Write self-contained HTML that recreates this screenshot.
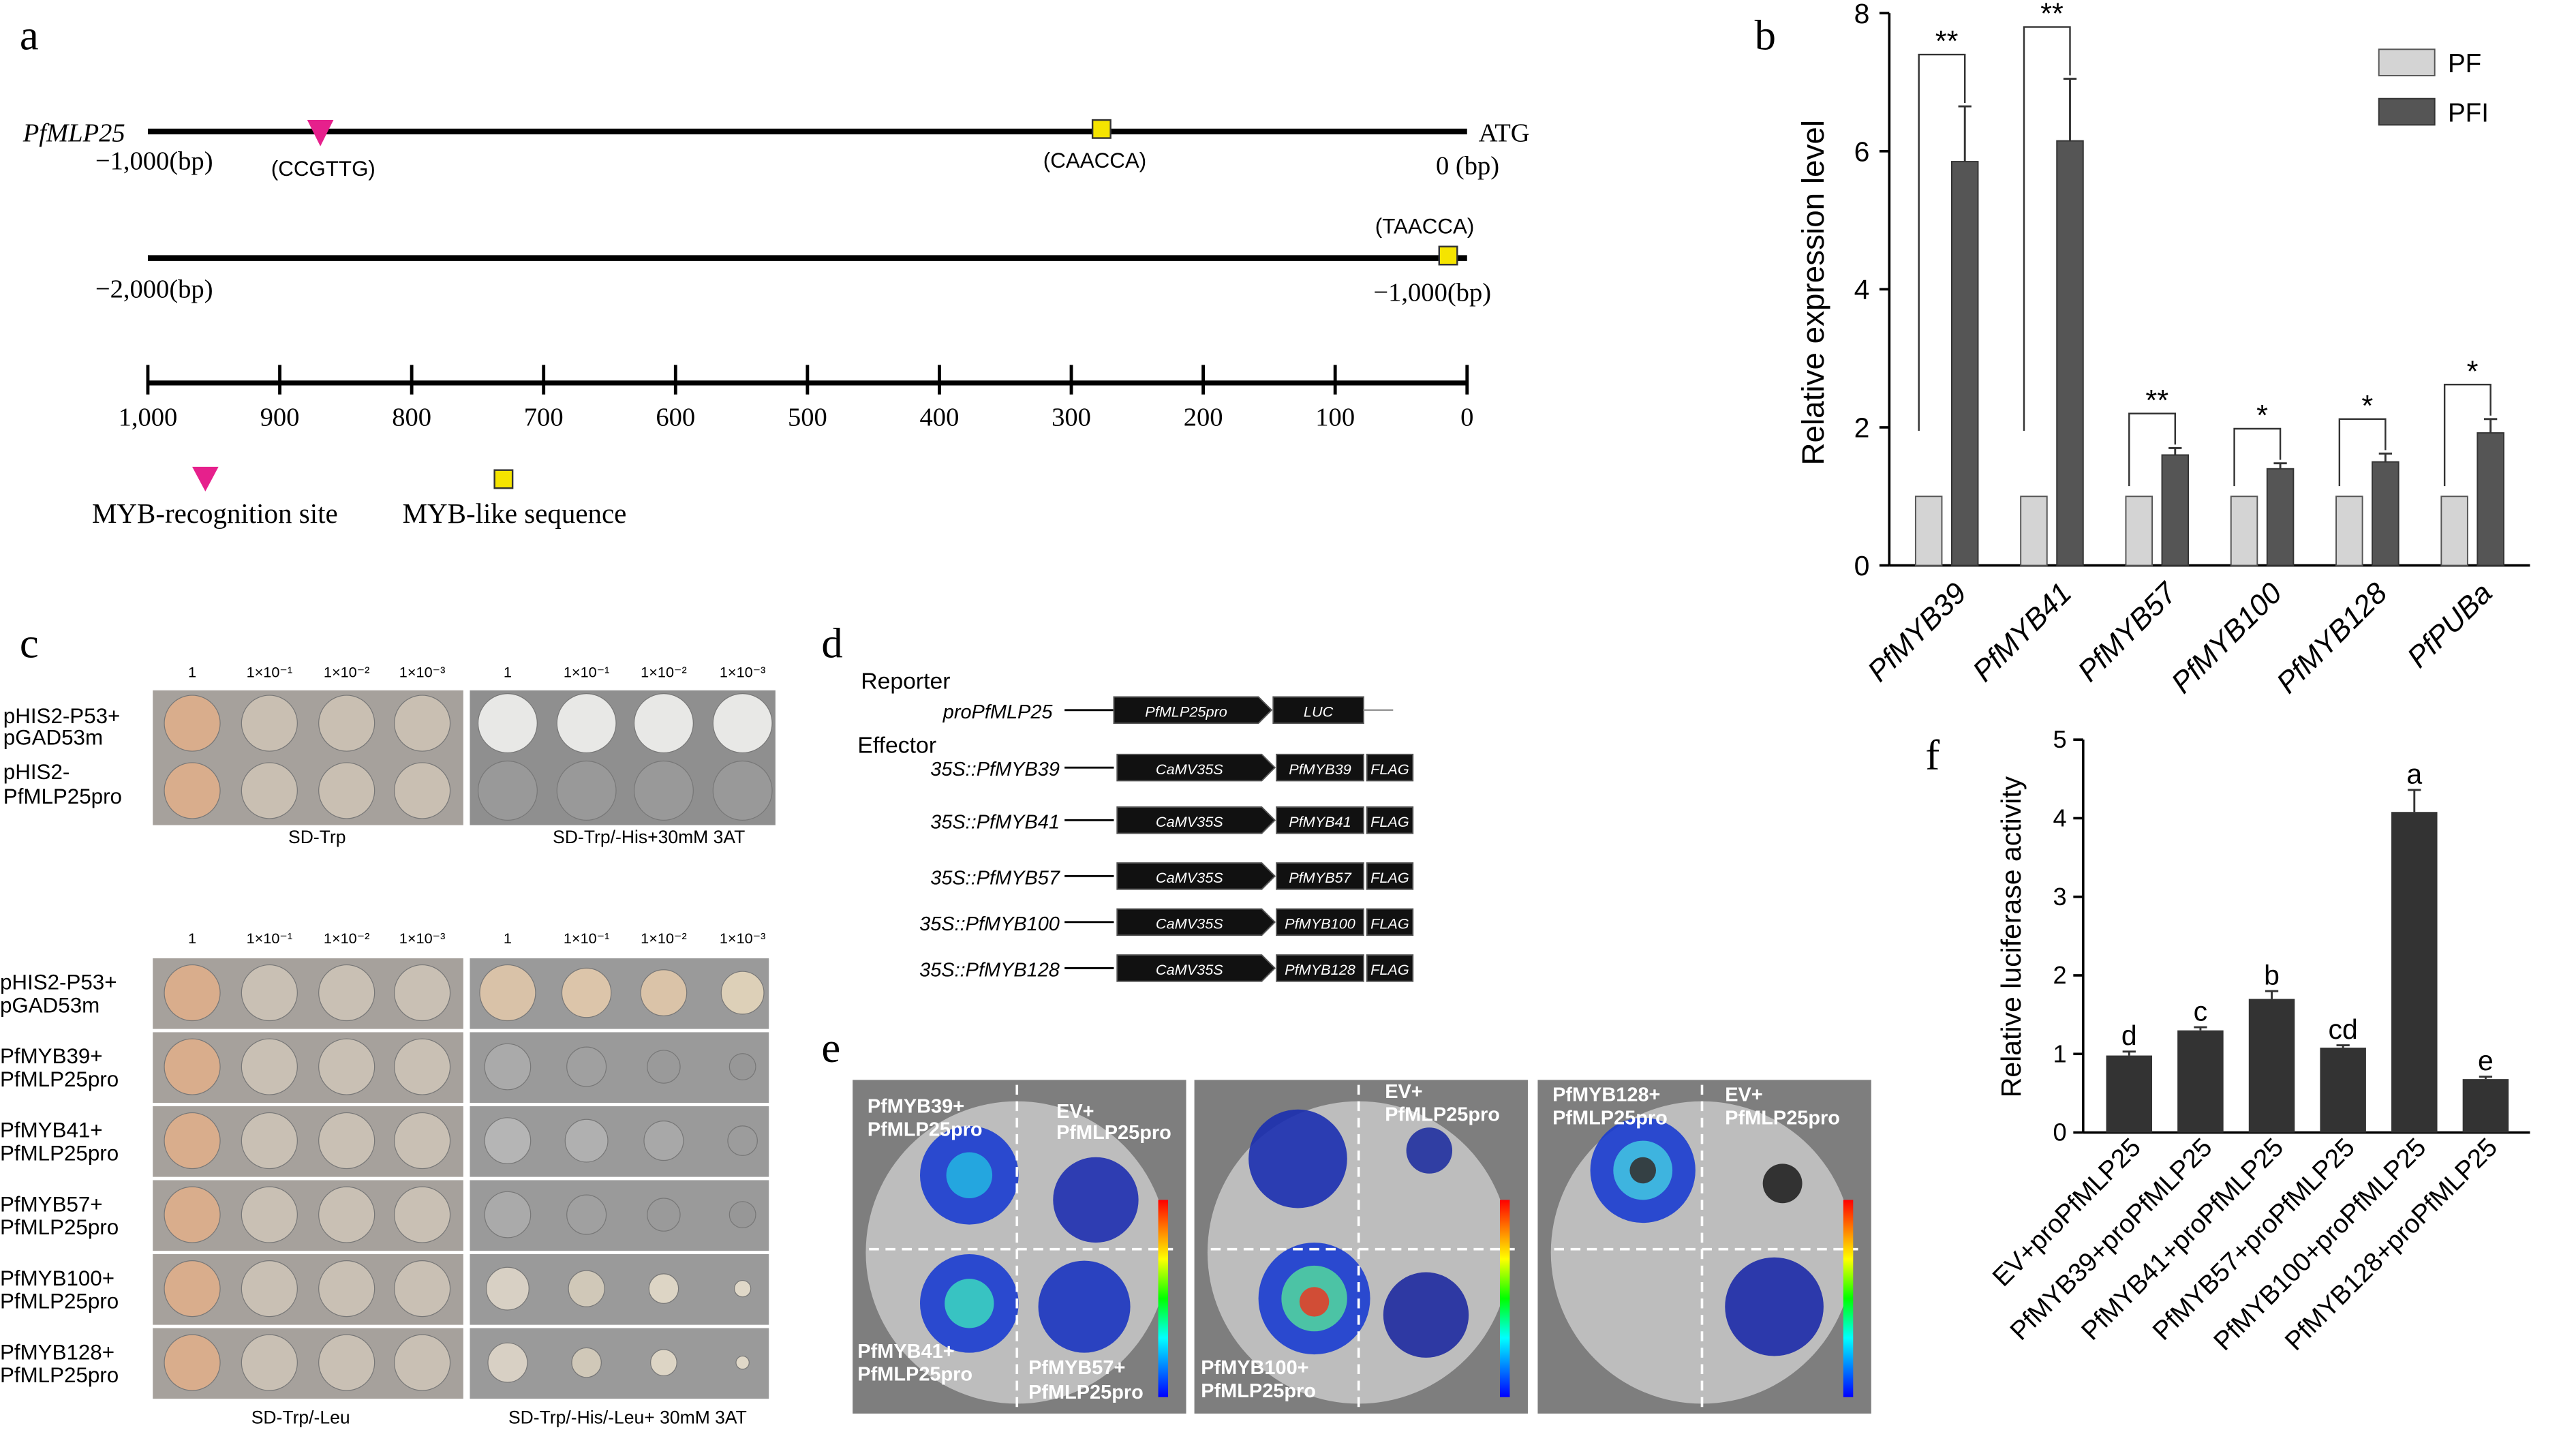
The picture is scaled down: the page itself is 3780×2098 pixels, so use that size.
<!DOCTYPE html>
<html><head><meta charset="utf-8"><style>
html,body{margin:0;padding:0;background:#fff}
svg{display:block}
text{font-family:"Liberation Serif",serif}
.s{font-family:"Liberation Sans",sans-serif}
</style></head><body>
<svg id="fig" width="3780" height="2098" viewBox="0 0 1568 870" preserveAspectRatio="none" xmlns="http://www.w3.org/2000/svg">
<rect width="1568" height="870" fill="#fff"/>
<g>
<text x="12" y="30" font-size="26">a</text>
<text x="14" y="86" font-size="16" font-style="italic">PfMLP25</text>
<line x1="90" y1="80" x2="893" y2="80" stroke="#000" stroke-width="3.5"/>
<polygon points="187,73 203,73 195,89" fill="#e6208c"/>
<rect x="665" y="73" width="11" height="11" fill="#f5e400" stroke="#333" stroke-width="1"/>
<text x="900" y="86" font-size="16">ATG</text>
<text x="58" y="103" font-size="16">−1,000(bp)</text>
<text x="165" y="107" font-size="13" class="s">(CCGTTG)</text>
<text x="635" y="102" font-size="13" class="s">(CAACCA)</text>
<text x="874" y="106" font-size="16">0 (bp)</text>
<line x1="90" y1="157" x2="893" y2="157" stroke="#000" stroke-width="3.5"/>
<rect x="876" y="150" width="11" height="11" fill="#f5e400" stroke="#333" stroke-width="1"/>
<text x="837" y="142" font-size="13" class="s">(TAACCA)</text>
<text x="58" y="181" font-size="16">−2,000(bp)</text>
<text x="836" y="183" font-size="16">−1,000(bp)</text>
<line x1="90" y1="233" x2="893" y2="233" stroke="#000" stroke-width="3"/>
<g id="scaleTicks"></g>
<polygon points="117,284 133,284 125,299" fill="#e6208c"/>
<text x="56" y="318" font-size="17">MYB-recognition site</text>
<rect x="301" y="286" width="11" height="11" fill="#f5e400" stroke="#333" stroke-width="1"/>
<text x="245" y="318" font-size="17">MYB-like sequence</text>
</g>
<g id="panelB">
<text x="1068" y="30" font-size="26">b</text>
<text transform="translate(1110,178) rotate(-90)" text-anchor="middle" font-size="19" class="s">Relative expression level</text>
<rect x="1448" y="30" width="34" height="16" fill="#d4d4d4" stroke="#555" stroke-width="0.8"/>
<text x="1490" y="44" font-size="16" class="s">PF</text>
<rect x="1448" y="60" width="34" height="16" fill="#555" stroke="#333" stroke-width="0.8"/>
<text x="1490" y="74" font-size="16" class="s">PFI</text>
</g>
<g id="panelF">
<text x="1172" y="468" font-size="26">f</text>
<text transform="translate(1230,570) rotate(-90)" text-anchor="middle" font-size="17" class="s">Relative luciferase activity</text>
</g>
<g id="panelC">
<text x="12" y="400" font-size="26">c</text>
<text x="193" y="513" font-size="11" class="s" text-anchor="middle">SD-Trp</text>
<text x="395" y="513" font-size="11" class="s" text-anchor="middle">SD-Trp/-His+30mM 3AT</text>
<text x="183" y="866" font-size="11" class="s" text-anchor="middle">SD-Trp/-Leu</text>
<text x="382" y="866" font-size="11" class="s" text-anchor="middle">SD-Trp/-His/-Leu+ 30mM 3AT</text>
</g>
<g id="panelD">
<text x="500" y="400" font-size="26">d</text>
<text x="524" y="419" font-size="14" class="s">Reporter</text>
<text x="522" y="458" font-size="14" class="s">Effector</text>
</g>
<g id="panelE">
<text x="500" y="646" font-size="26">e</text>
</g>
</svg>
<script>
const bCategories = ["PfMYB39","PfMYB41","PfMYB57","PfMYB100","PfMYB128","PfPUBa"];
const bPF = [1,1,1,1,1,1];
const bPFI = [5.85,6.15,1.6,1.4,1.5,1.92];
const bErr = [0.8,0.9,0.1,0.08,0.12,0.2];
const bSig = ["**","**","**","*","*","*"];
const bTicks = [0,2,4,6,8];
const fCategories = ["EV+proPfMLP25","PfMYB39+proPfMLP25","PfMYB41+proPfMLP25","PfMYB57+proPfMLP25","PfMYB100+proPfMLP25","PfMYB128+proPfMLP25"];
const fValues = [0.98,1.3,1.7,1.08,4.08,0.68];
const fErr = [0.05,0.04,0.1,0.03,0.28,0.03];
const fLetters = ["d","c","b","cd","a","e"];
const fTicks = [0,1,2,3,4,5];
const scaleLabels = ["1,000","900","800","700","600","500","400","300","200","100","0"];

const NS="http://www.w3.org/2000/svg";
function mk(tag,attrs,parent,txt){const e=document.createElementNS(NS,tag);for(const k in attrs)e.setAttribute(k,attrs[k]);if(txt!==undefined)e.textContent=txt;parent.appendChild(e);return e;}

(function(){
 const g=document.getElementById('scaleTicks');
 scaleLabels.forEach((l,i)=>{
  const x=90+i*(803/10);
  const t=mk('line',{x1:x,y1:222,x2:x,y2:240,stroke:'#000','stroke-width':2},g);
  
  
  const tx=mk('text',{x:x,y:259,'font-size':16,'text-anchor':'middle'},g,l);
  
  
 });
})();

(function(){
 const g=document.getElementById('panelB');
 const x0=1150,x1=1540,y0=344,yTop=8,max=8;
 const ys=v=>y0-(y0-yTop)*v/max;
 const gx=i=>1174+i*64;
 let a=mk('line',{x1:x0,y1:yTop,x2:x0,y2:y0,stroke:'#000','stroke-width':1.5},g);
 
 a=mk('line',{x1:x0,y1:y0,x2:x1,y2:y0,stroke:'#000','stroke-width':1.5},g);
 
 bTicks.forEach(t=>{
  const l=mk('line',{x1:x0-6,y1:ys(t),x2:x0,y2:ys(t),stroke:'#000','stroke-width':1.5},g);
  
  const tx=mk('text',{x:x0-12,y:ys(t)+6,'font-size':17,'text-anchor':'end',class:'s'},g,t);
  
 });
 bCategories.forEach((c,i)=>{
  const cx=gx(i),px=cx+22,w=16;
  const r1=mk('rect',{x:cx-w/2,y:ys(bPF[i]),width:w,height:y0-ys(bPF[i]),fill:'#d4d4d4',stroke:'#555','stroke-width':0.8},g);
  
  const r2=mk('rect',{x:px-w/2,y:ys(bPFI[i]),width:w,height:y0-ys(bPFI[i]),fill:'#555',stroke:'#333','stroke-width':0.8},g);
  
  const e=mk('path',{d:`M${px},${ys(bPFI[i])} V${ys(bPFI[i]+bErr[i])} M${px-4},${ys(bPFI[i]+bErr[i])} H${px+4}`,stroke:'#333','stroke-width':1.2,fill:'none'},g);
  
  const top=bPFI[i]+bErr[i];
  const by=ys(top+(top>3?0.75:0.5));
  const lowL=i<2?ys(bPF[i]+0.95):ys(bPF[i]+0.15);
  const br=mk('path',{d:`M${cx-6},${lowL} V${by} H${px} V${ys(top+0.05)}`,stroke:'#333','stroke-width':1,fill:'none'},g);
  
  const st=mk('text',{x:(cx+px)/2,y:by-2,'font-size':18,'text-anchor':'middle',class:'s'},g,bSig[i]);
  
  const xl=mk('text',{transform:`translate(${cx+24},${y0+18}) rotate(-45)`,'font-size':18,'text-anchor':'end','font-style':'italic',class:'s'},g,c);
  
 });
})();

(function(){
 const g=document.getElementById('panelF');
 const x0=1268,x1=1540,y0=689,yTop=450,max=5;
 const ys=v=>y0-(y0-yTop)*v/max;
 const cx=i=>1296+i*43.4;
 let a=mk('line',{x1:x0,y1:yTop,x2:x0,y2:y0,stroke:'#000','stroke-width':1.5},g);
 
 a=mk('line',{x1:x0,y1:y0,x2:x1,y2:y0,stroke:'#000','stroke-width':1.5},g);
 
 fTicks.forEach(t=>{
  const l=mk('line',{x1:x0-6,y1:ys(t),x2:x0,y2:ys(t),stroke:'#000','stroke-width':1.5},g);
  
  const tx=mk('text',{x:x0-10,y:ys(t)+5,'font-size':15,'text-anchor':'end',class:'s'},g,t);
  
 });
 fCategories.forEach((c,i)=>{
  const x=cx(i),w=28;
  const r=mk('rect',{x:x-w/2,y:ys(fValues[i]),width:w,height:y0-ys(fValues[i]),fill:'#333'},g);
  
  const top=fValues[i]+fErr[i];
  const e=mk('path',{d:`M${x},${ys(fValues[i])} V${ys(top)} M${x-4},${ys(top)} H${x+4}`,stroke:'#333','stroke-width':1.2,fill:'none'},g);
  
  const lt=mk('text',{x:x,y:ys(top)-4,'font-size':17,'text-anchor':'middle',class:'s'},g,fLetters[i]);
  
  const xl=mk('text',{transform:`translate(${x+8},${y0+10}) rotate(-45)`,'font-size':16,'text-anchor':'end',class:'s'},g,c);
  
 });
})();

(function(){
 const g=document.getElementById('panelC');
 const heads=["1","1×10⁻¹","1×10⁻²","1×10⁻³"];
 function plate(x,y,w,h,fill,name){const r=mk('rect',{x:x,y:y,width:w,height:h,fill:fill},g);}
 function spot(x,y,r,fill,name){const c=mk('circle',{cx:x,cy:y,r:r,fill:fill,stroke:'#777','stroke-width':0.5},g);}
 const lx=[117,164,211,257], rx=[309,357,404,452];
 [[lx,412],[rx,412]].forEach(([xs,y])=>xs.forEach((x,i)=>{const t=mk('text',{x:x,y:y,'font-size':9,'text-anchor':'middle',class:'s'},g,heads[i]);}));
 plate(93,420,189,82,'#a6a19c','plate-sd-trp-top');
 plate(286,420,186,82,'#8f8f8f','plate-sd-trp-his-top');
 const topRows=[440,481];
 topRows.forEach((y,r)=>{
  lx.forEach((x,i)=>spot(x,y,17,i==0?'#d9ad8c':'#c9bfb2','colony-left'));
  rx.forEach((x,i)=>spot(x,y,18,r==0?'#e8e8e6':'#999','colony-right'));
 });
 [["pHIS2-P53+",440],["pGAD53m",453],["pHIS2-",474],["PfMLP25pro",489]].forEach(([t,y])=>{const e=mk('text',{x:2,y:y,'font-size':13,class:'s'},g,t);});
 [[lx,574],[rx,574]].forEach(([xs,y])=>xs.forEach((x,i)=>{const t=mk('text',{x:x,y:y,'font-size':9,'text-anchor':'middle',class:'s'},g,heads[i]);}));
 const names=[["pHIS2-P53+","pGAD53m"],["PfMYB39+","PfMLP25pro"],["PfMYB41+","PfMLP25pro"],["PfMYB57+","PfMLP25pro"],["PfMYB100+","PfMLP25pro"],["PfMYB128+","PfMLP25pro"]];
 const rightFill=[['#d9c2a8','#dcc5aa','#dac3a8','#ddd0b8'],['#aaa','#a0a0a0','#9a9a9a','#979797'],['#b5b5b5','#b0b0b0','#a8a8a8','#9c9c9c'],['#aaa','#a0a0a0','#9a9a9a','#979797'],['#d8d0c4','#d0c8b8','#ddd5c5','#e0d8c8'],['#d8d0c4','#d0c8b8','#ddd5c5','#e0d8c8']];
 const rightR=[[17,15,14,13],[14,12,10,8],[14,13,12,9],[14,12,10,8],[13,11,9,5],[12,9,8,4]];
 for(let r=0;r<6;r++){
  const y=583+r*45;
  plate(93,y,189,43,'#a6a19c','plate-left-row');
  plate(286,y,182,43,'#9a9a9a','plate-right-row');
  const cy=y+21;
  lx.forEach((x,i)=>spot(x,cy,17,i==0?'#d9ad8c':'#c9c0b4','colony-left'));
  rx.forEach((x,i)=>spot(x,cy,rightR[r][i],rightFill[r][i],'colony-right'));
  names[r].forEach((t,k)=>{const e=mk('text',{x:0,y:cy-2+k*14,'font-size':13,class:'s'},g,t);});
 }
})();

(function(){
 const g=document.getElementById('panelD');
 function box(x,y,w,label,arrow,name){
  const h=16;
  const d=arrow?`M${x},${y} H${x+w-8} L${x+w},${y+h/2} L${x+w-8},${y+h} H${x} Z`:`M${x},${y} H${x+w} V${y+h} H${x} Z`;
  const p=mk('path',{d:d,fill:'#111',stroke:'#555','stroke-width':0.8},g);
  
  const t=mk('text',{x:x+(w-(arrow?8:0))/2,y:y+12,'font-size':9,fill:'#fff','text-anchor':'middle','font-style':'italic',class:'s'},g,label);
  
 }
 let t=mk('text',{x:574,y:437,'font-size':12,'font-style':'italic',class:'s'},g,'proPfMLP25');
 
 let l=mk('line',{x1:648,y1:432,x2:678,y2:432,stroke:'#000','stroke-width':1.2},g);
 
 box(678,424,96,'PfMLP25pro',true,'promoter-box');
 box(775,424,55,'LUC',false,'luc-box');
 l=mk('line',{x1:830,y1:432,x2:848,y2:432,stroke:'#999','stroke-width':1},g);
 
 const eff=[["35S::PfMYB39","PfMYB39",467],["35S::PfMYB41","PfMYB41",499],["35S::PfMYB57","PfMYB57",533],["35S::PfMYB100","PfMYB100",561],["35S::PfMYB128","PfMYB128",589]];
 eff.forEach(([n,m,y])=>{
  const tt=mk('text',{x:645,y:y+5,'font-size':12,'font-style':'italic','text-anchor':'end',class:'s'},g,n);
  
  const ll=mk('line',{x1:648,y1:y,x2:678,y2:y,stroke:'#000','stroke-width':1.2},g);
  
  box(680,y-8,96,'CaMV35S',true,'camv35s-box');
  box(777,y-8,53,m,false,'myb-box');
  box(832,y-8,28,'FLAG',false,'flag-box');
 });
})();

(function(){
 const g=document.getElementById('panelE');
 const imgs=[519,727,936];
 const labels=[
  [["PfMYB39+",528,677],["PfMLP25pro",528,691],["EV+",643,680],["PfMLP25pro",643,693],["PfMYB41+",522,826],["PfMLP25pro",522,840],["PfMYB57+",626,836],["PfMLP25pro",626,851]],
  [["EV+",843,668],["PfMLP25pro",843,682],["PfMYB100+",731,836],["PfMLP25pro",731,850]],
  [["PfMYB128+",945,670],["PfMLP25pro",945,684],["EV+",1050,670],["PfMLP25pro",1050,684]]
 ];
 const blobs=[
  [[590,715,30,'#1a3cd0'],[590,715,14,'#23b0e0'],[667,730,26,'#1e2fb0'],[590,793,30,'#1a3cd0'],[590,793,15,'#3ad0c0'],[660,795,28,'#1a34c0']],
  [[790,705,30,'#1b2fb0'],[800,790,34,'#1a3cd0'],[800,790,20,'#50d0a0'],[800,792,9,'#e0402a'],[868,800,26,'#1e2aa0'],[870,700,14,'#2030a0']],
  [[1000,712,32,'#1a3cd0'],[1000,712,18,'#40c0e0'],[1000,712,8,'#333'],[1080,795,30,'#1c2aa8'],[1085,720,12,'#222']]
 ];
 imgs.forEach((x,k)=>{
  let r=mk('rect',{x:x,y:657,width:203,height:203,fill:'#7e7e7e'},g);
  
  let el=mk('ellipse',{cx:x+100,cy:762,rx:92,ry:92,fill:'#bdbdbd'},g);
  
  blobs[k].forEach(([cx,cy,rr,f])=>{const c=mk('circle',{cx:cx,cy:cy,r:rr,fill:f,opacity:0.9},g);});
  let dl=mk('line',{x1:x+100,y1:660,x2:x+100,y2:858,stroke:'#fff','stroke-width':1.5,'stroke-dasharray':'6,4'},g);
  
  dl=mk('line',{x1:x+10,y1:760,x2:x+195,y2:760,stroke:'#fff','stroke-width':1.5,'stroke-dasharray':'6,4'},g);
  
  const cb=mk('rect',{x:x+186,y:730,width:6,height:120,fill:'url(#cbar)'},g);
  
  labels[k].forEach(([t,tx,ty])=>{const e=mk('text',{x:tx,y:ty,'font-size':12,'font-weight':'bold',fill:'#fff',class:'s'},g,t);});
 });
 const defs=mk('defs',{},document.getElementById('fig'));
 const lg=mk('linearGradient',{id:'cbar',x1:0,y1:0,x2:0,y2:1},defs);
 [['0','#ff0000'],['0.3','#ffff00'],['0.5','#00ff00'],['0.7','#00ffff'],['1','#0000ff']].forEach(([o,c])=>mk('stop',{offset:o,'stop-color':c},lg));
})();
</script>
</body></html>
